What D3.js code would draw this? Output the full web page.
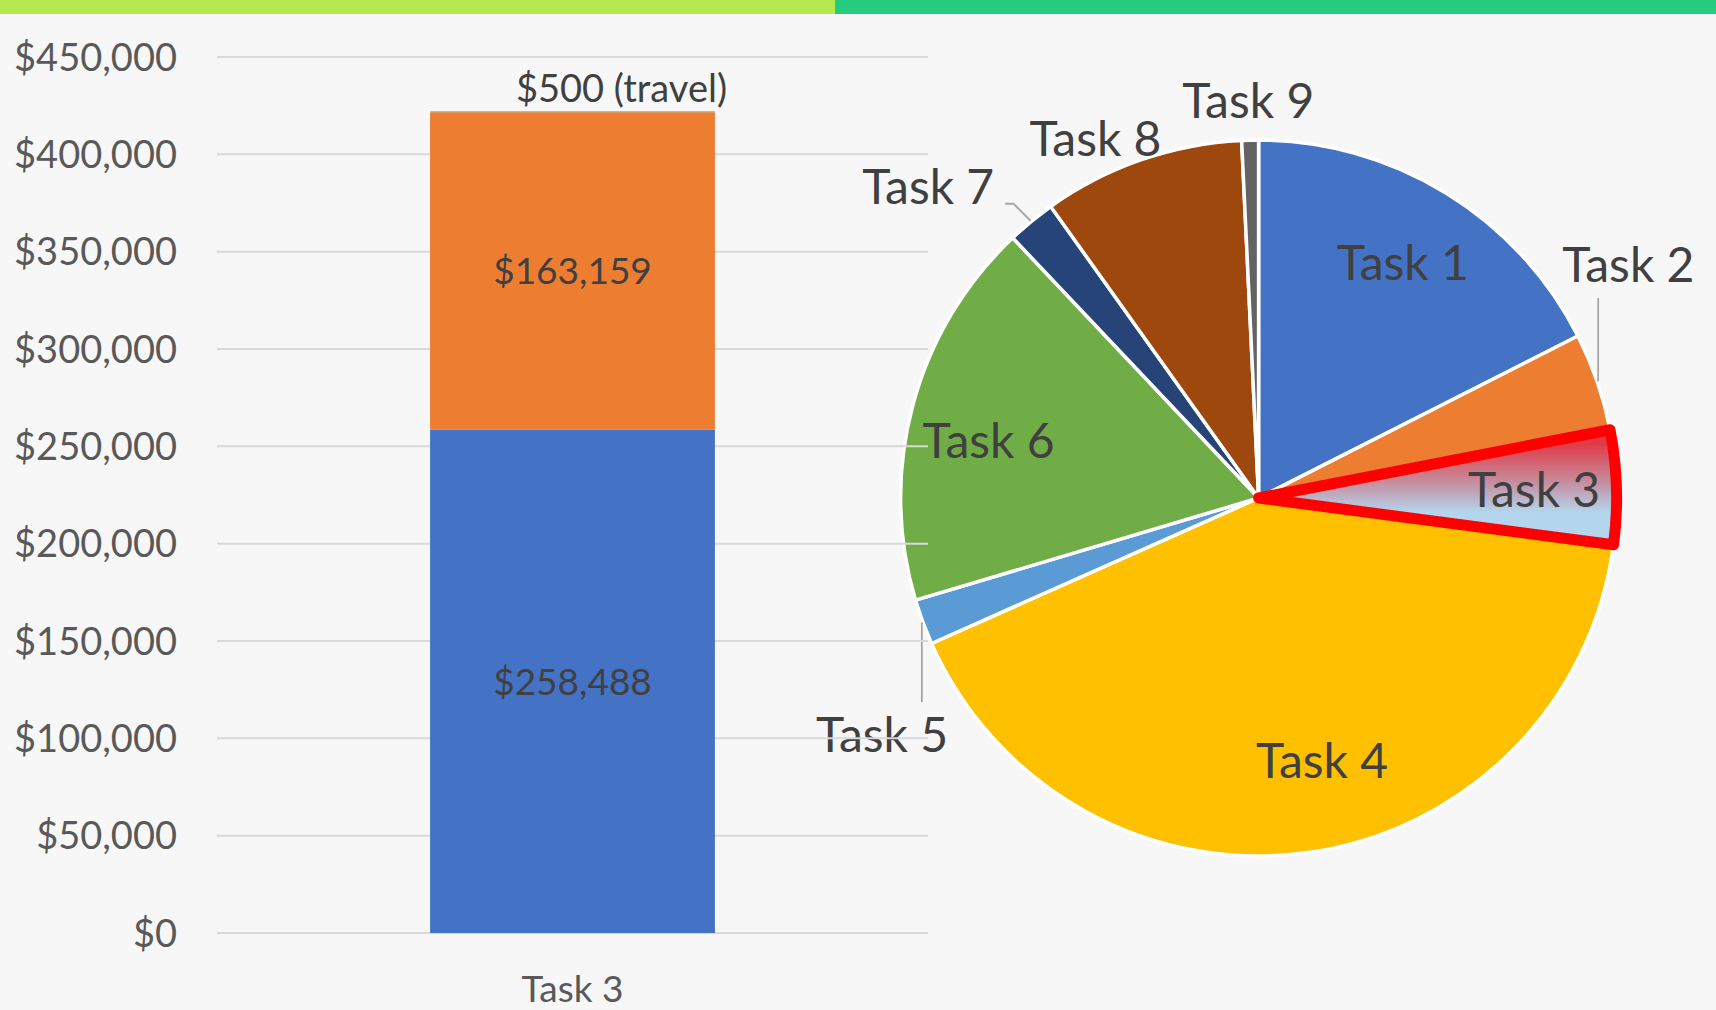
<!DOCTYPE html>
<html>
<head>
<meta charset="utf-8">
<script src="https://cdn.jsdelivr.net/npm/d3@7"></script>
<style>
    body { margin: 0; background: #f7f7f7; overflow: hidden; }
    text { font-family: Lato, "Open Sans", sans-serif; }
</style>
</head>
<body>
<div id="chart"></div>
<script>
// stacked bar: what Task 3 is made of
let barCategories = ["Task 3"];
let barKeys = ["labor", "other", "travel"];
let barValues = [258488, 163159, 500];
let barLabels = ["$258,488", "$163,159", "$500 (travel)"];
let yTicks = [0, 50000, 100000, 150000, 200000, 250000, 300000, 350000, 400000, 450000];

// pie: all tasks
let pieTasks = ["Task 1", "Task 2", "Task 3", "Task 4", "Task 5", "Task 6", "Task 7", "Task 8", "Task 9"];
let pieValues = [1440000, 363000, 422147, 3389000, 169000, 1442000, 180000, 748000, 62000];

let width = 1716,
    height = 1010;

let svg = d3.select("#chart")
    .append("svg")
    .attr("width", width)
    .attr("height", height);

// green strip across the top
svg.append("rect").attr("x", 0).attr("y", 0).attr("width", 835).attr("height", 14).style("fill", "#b3e84f");
svg.append("rect").attr("x", 835).attr("y", 0).attr("width", width - 835).attr("height", 14).style("fill", "#25cc7d");

// ---------- pie ----------
let cx = 1258.6,
    cy = 498,
    radius = 358;

let pieColors = ["#4472c4", "#ed7d31", "url(#highlight)", "#ffc000", "#5b9bd5", "#70ad47", "#264478", "#9e480e", "#636363"];

let defs = svg.append("defs");
let grad = defs.append("linearGradient")
    .attr("id", "highlight")
    .attr("x1", 0).attr("y1", 0)
    .attr("x2", 0).attr("y2", 1);
[[0, "#e4303e"], [0.12, "#e03a48"], [0.45, "#c68c9c"], [0.72, "#b3d6ee"], [1, "#b3d6ee"]].forEach(function (s) {
    grad.append("stop").attr("offset", s[0]).attr("stop-color", s[1]);
});

let pie = d3.pie().sort(null);
let arcs = pie(pieValues);
let arc = d3.arc().innerRadius(0).outerRadius(radius);

let pieG = svg.append("g").attr("transform", "translate(" + cx + "," + cy + ")");

function polar(deg, r) {
    let a = deg * Math.PI / 180;
    return [r * Math.sin(a), -r * Math.cos(a)];
}
function midDeg(d) {
    return (d.startAngle + d.endAngle) / 2 * 180 / Math.PI;
}

pieG.selectAll(".slice")
    .data(arcs)
    .enter()
    .append("path")
    .attr("class", "slice")
    .attr("d", arc)
    .style("fill", function (d, i) { return pieColors[i]; })
    .style("stroke", "white")
    .style("stroke-width", 3.5)
    .style("stroke-linejoin", "round");

// the highlighted Task 3 slice, drawn again on top with a red border
pieG.append("path")
    .attr("d", arc(arcs[2]))
    .style("fill", "url(#highlight)")
    .style("stroke", "#ff0000")
    .style("stroke-width", 11)
    .style("stroke-linejoin", "round");

// label placement (polar: degrees clockwise from 12 o'clock, distance from centre)
let labelPlace = {
    "Task 2": [57.8, 437],
    "Task 4": [166.4, 270],
    "Task 5": [237.8, 445],
    "Task 6": [281.9, 276],
    "Task 7": [313.3, 454],
    "Task 8": [335.6, 395],
    "Task 9": [358.5, 397]
};
let labelPos = arcs.map(function (d, i) {
    let p = labelPlace[pieTasks[i]];
    return p ? polar(p[0], p[1]) : polar(midDeg(d), radius * 0.77);
});

// leader lines
let leaders = { "Task 2": "up", "Task 5": "down", "Task 7": "elbow" };
arcs.forEach(function (d, i) {
    let kind = leaders[pieTasks[i]];
    if (!kind) return;
    let p0 = polar(midDeg(d), radius + 1),
        lp = labelPos[i],
        pts;
    if (kind === "up") pts = [p0, [p0[0], lp[1] + 33]];
    else if (kind === "down") pts = [p0, [p0[0], lp[1] - 33]];
    else pts = [p0, [p0[0] - 17, p0[1] - 17], [lp[0] + 77, p0[1] - 17]];
    pieG.append("path")
        .attr("d", d3.line()(pts))
        .style("fill", "none")
        .style("stroke", "#a6a6a6")
        .style("stroke-width", 1.8);
});

pieG.selectAll(".pielabel")
    .data(arcs)
    .enter()
    .append("text")
    .attr("class", "pielabel")
    .attr("x", function (d, i) { return labelPos[i][0]; })
    .attr("y", function (d, i) { return labelPos[i][1]; })
    .attr("dy", "0.36em")
    .text(function (d, i) { return pieTasks[i]; })
    .style("text-anchor", "middle")
    .style("font-size", "48px")
    .style("fill", "#404040");

// ---------- stacked bar (drawn over the pie, like the original) ----------
let y = d3.scaleLinear()
    .domain([0, 450000])
    .range([933, 57]);

let x = d3.scaleBand()
    .domain(barCategories)
    .range([217, 928])
    .padding(0.428);

let fmt = d3.format("$,");

svg.append("g")
    .selectAll("line")
    .data(yTicks)
    .enter()
    .append("line")
    .attr("x1", x.range()[0])
    .attr("x2", x.range()[1])
    .attr("y1", function (d) { return y(d); })
    .attr("y2", function (d) { return y(d); })
    .style("stroke", "#d9d9d9")
    .style("stroke-width", 2);

svg.append("g")
    .selectAll("text")
    .data(yTicks)
    .enter()
    .append("text")
    .attr("x", 177)
    .attr("y", function (d) { return y(d); })
    .attr("dy", "0.36em")
    .text(function (d) { return fmt(d); })
    .style("text-anchor", "end")
    .style("font-size", "38px")
    .style("fill", "#595959");

let row = {};
barKeys.forEach(function (k, i) { row[k] = barValues[i]; });
let stacked = d3.stack().keys(barKeys)([row]);
let barColors = ["#4472c4", "#ed7d31", "#a5a5a5"];

let bx = x(barCategories[0]),
    bw = x.bandwidth();

svg.append("g")
    .selectAll("rect")
    .data(stacked)
    .enter()
    .append("rect")
    .attr("x", bx)
    .attr("width", bw)
    .attr("y", function (s) { return y(s[0][1]); })
    .attr("height", function (s) { return Math.max(1, y(s[0][0]) - y(s[0][1])); })
    .style("fill", function (s, i) { return barColors[i]; });

// values inside the two big segments
svg.append("g")
    .selectAll("text")
    .data(stacked.slice(0, 2))
    .enter()
    .append("text")
    .attr("x", bx + bw / 2)
    .attr("y", function (s) { return (y(s[0][0]) + y(s[0][1])) / 2; })
    .attr("dy", "0.36em")
    .text(function (s, i) { return barLabels[i]; })
    .style("text-anchor", "middle")
    .style("font-size", "37px")
    .style("fill", "#404040");

// travel sliver label above the bar
svg.append("text")
    .attr("x", bx + bw / 2 + 49)
    .attr("y", y(stacked[2][0][1]) - 9)
    .text(barLabels[2])
    .style("text-anchor", "middle")
    .style("font-size", "38px")
    .style("fill", "#404040");

// category label
svg.append("text")
    .attr("x", bx + bw / 2)
    .attr("y", 1002)
    .text(barCategories[0])
    .style("text-anchor", "middle")
    .style("font-size", "37px")
    .style("fill", "#595959");
</script>
</body>
</html>
